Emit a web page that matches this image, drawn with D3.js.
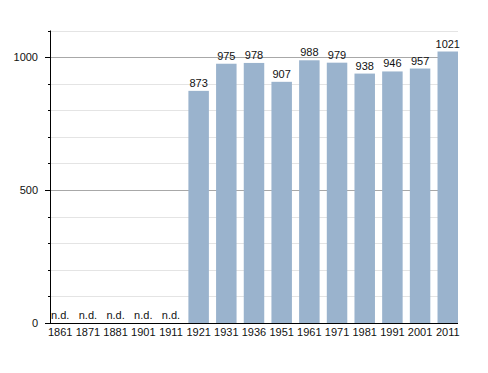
<!DOCTYPE html>
<html>
<head>
<meta charset="utf-8">
<script src="https://cdn.jsdelivr.net/npm/d3@7"></script>
<style>
body { margin: 0; background: #fff; }
text { font-family: "Liberation Sans", Arial, sans-serif; }
</style>
</head>
<body>
<svg width="488" height="373"></svg>
<script>
var years = ["1861", "1871", "1881", "1901", "1911", "1921", "1931", "1936", "1951", "1961", "1971", "1981", "1991", "2001", "2011"];
var population = [null, null, null, null, null, 873, 975, 978, 907, 988, 979, 938, 946, 957, 1021];
var yTicks = [0, 500, 1000];

var svg = d3.select("svg"),
    plotLeft = 50, plotRight = 458, plotTop = 30.5, plotBottom = 323;

var x = d3.scaleBand().domain(years).range([plotLeft, plotRight]).paddingInner(0.26).paddingOuter(0);
var y = d3.scaleLinear().domain([0, 1100]).range([plotBottom, plotTop]);

var data = years.map(function(d, i) { return {year: d, value: population[i]}; });

// gridlines every 100
var grid = d3.range(100, 1101, 100);
svg.append("g").selectAll("line")
  .data(grid)
  .enter().append("line")
    .attr("x1", plotLeft).attr("x2", plotRight)
    .attr("y1", function(d) { return Math.round(y(d)) + 0.5; })
    .attr("y2", function(d) { return Math.round(y(d)) + 0.5; })
    .attr("stroke", function(d) { return d % 500 === 0 ? "#a8a8a8" : "#e4e4e4"; })
    .attr("stroke-width", 1);

// bars
svg.append("g").selectAll("rect")
  .data(data.filter(function(d) { return d.value != null; }))
  .enter().append("rect")
    .attr("x", function(d) { return x(d.year); })
    .attr("y", function(d) { return y(d.value); })
    .attr("width", x.bandwidth())
    .attr("height", function(d) { return plotBottom - y(d.value); })
    .attr("fill", "#9ab3cd");

// value labels
svg.append("g").selectAll("text")
  .data(data)
  .enter().append("text")
    .attr("x", function(d) { return x(d.year) + x.bandwidth() / 2; })
    .attr("y", function(d) { return d.value == null ? plotBottom - 4 : y(d.value) - 4; })
    .attr("text-anchor", "middle")
    .style("font-size", "11px")
    .attr("fill", "#111")
    .text(function(d) { return d.value == null ? "n.d." : d.value; });

// y axis
var yAxis = svg.append("g")
  .attr("transform", "translate(" + plotLeft + ",0)");
yAxis.append("line")
  .attr("x1", 0.5).attr("x2", 0.5)
  .attr("y1", plotTop).attr("y2", plotBottom + 1)
  .attr("stroke", "#000");
yAxis.selectAll(".minor")
  .data(d3.range(0, 1101, 100))
  .enter().append("line")
    .attr("x1", function(d) { return d % 500 === 0 ? -5 : -2; })
    .attr("x2", 0)
    .attr("y1", function(d) { return Math.round(y(d)) + 0.5; })
    .attr("y2", function(d) { return Math.round(y(d)) + 0.5; })
    .attr("stroke", "#000");
yAxis.selectAll(".lbl")
  .data(yTicks)
  .enter().append("text")
    .attr("x", -12)
    .attr("y", function(d) { return y(d); })
    .attr("dy", "0.35em")
    .attr("text-anchor", "end")
    .style("font-size", "11px")
    .attr("fill", "#111")
    .text(function(d) { return d; });

// x axis
var xAxis = svg.append("g");
xAxis.append("line")
  .attr("x1", plotLeft).attr("x2", plotRight)
  .attr("y1", plotBottom + 0.5).attr("y2", plotBottom + 0.5)
  .attr("stroke", "#000");
xAxis.selectAll("text")
  .data(years)
  .enter().append("text")
    .attr("x", function(d) { return x(d) + x.bandwidth() / 2; })
    .attr("y", plotBottom + 9)
    .attr("dy", "0.35em")
    .attr("text-anchor", "middle")
    .style("font-size", "11px")
    .attr("fill", "#111")
    .text(function(d) { return d; });
</script>
</body>
</html>
